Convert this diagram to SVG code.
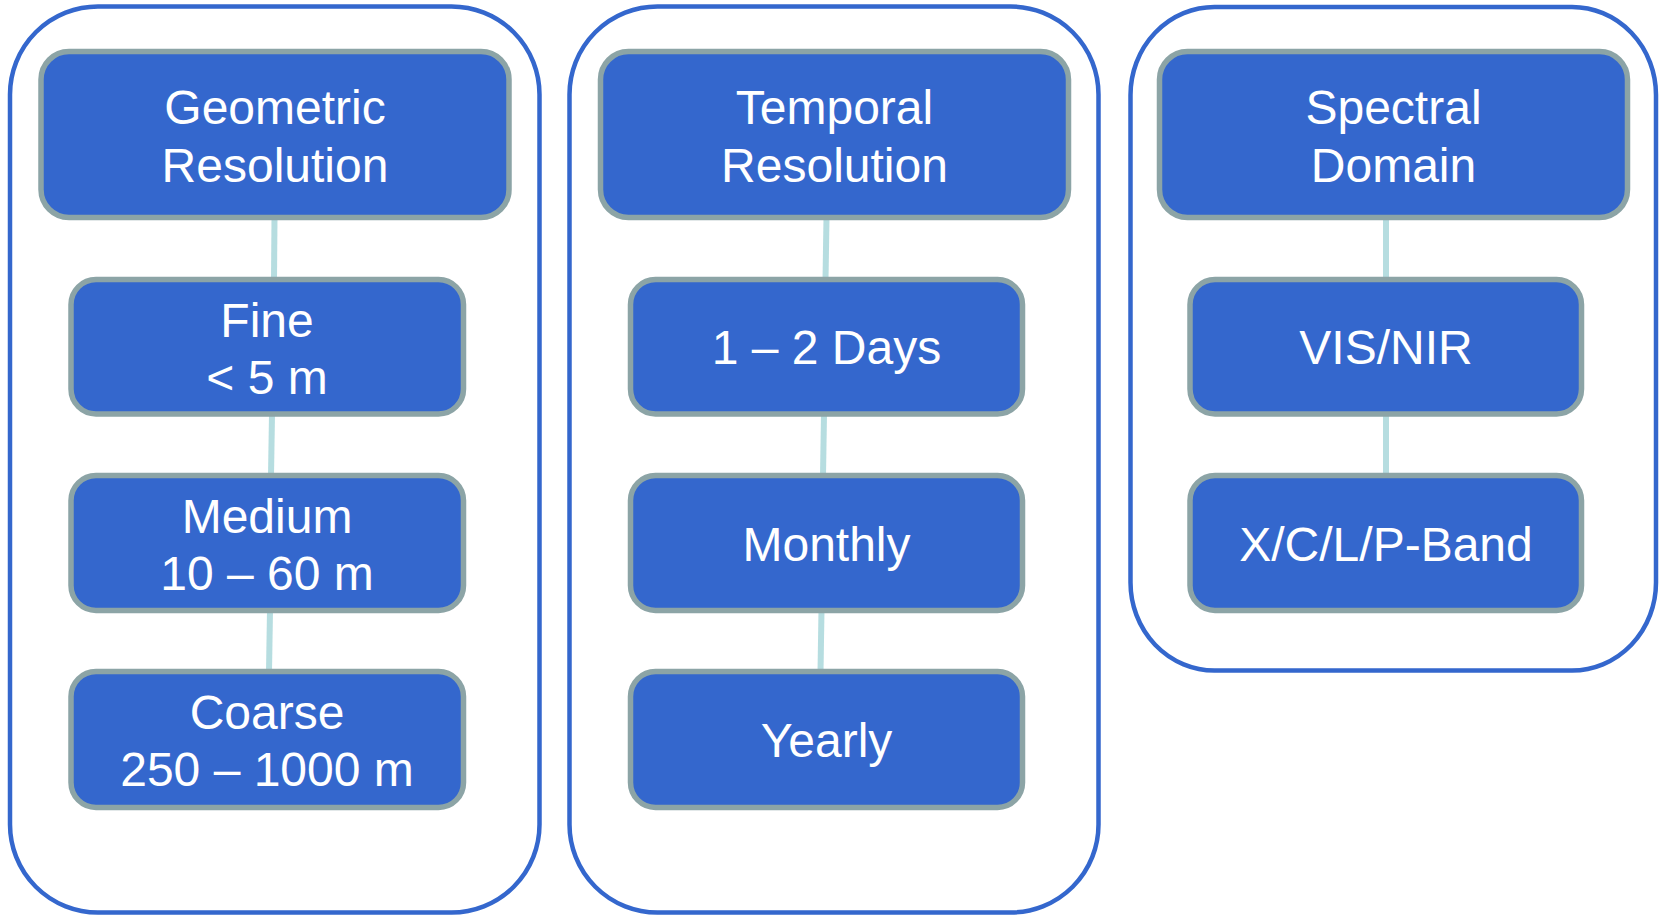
<svg xmlns="http://www.w3.org/2000/svg" width="1659" height="915" viewBox="0 0 1659 915">
<style>
.cont{fill:#ffffff;stroke:#3467CD;stroke-width:4.5}
.box{fill:#3467CD;stroke:#8CA4A6;stroke-width:5.5}
.conn line{stroke:#B6DDE0;stroke-width:6}
text{font-family:"Liberation Sans",Arial,sans-serif;font-size:48px;fill:#ffffff;text-anchor:middle}
</style>
<rect width="1659" height="915" fill="#ffffff"/>
<g id="container-geometric"><rect class="cont" x="10" y="6.5" width="529.5" height="906" rx="88" ry="88"/></g>
<g id="container-temporal"><rect class="cont" x="569.5" y="6.5" width="529" height="906" rx="88" ry="88"/></g>
<g id="container-spectral"><rect class="cont" x="1130.5" y="7" width="525.5" height="663.5" rx="84" ry="88"/></g>
<g id="connectors" class="conn">
<line x1="274.5" y1="218" x2="274" y2="280"/>
<line x1="272" y1="414" x2="271" y2="476"/>
<line x1="270" y1="610" x2="269" y2="672"/>
<line x1="826.5" y1="218" x2="825.5" y2="280"/>
<line x1="824" y1="414" x2="823" y2="476"/>
<line x1="821.5" y1="610" x2="820.5" y2="672"/>
<line x1="1386" y1="218" x2="1386" y2="280"/>
<line x1="1386" y1="414" x2="1386" y2="476"/>
</g>
<g id="geometric-resolution"><rect class="box" x="41" y="51.5" width="468" height="166" rx="28"/><text x="275" y="124">Geometric</text><text x="275" y="181.5">Resolution</text></g>
<g id="fine"><rect class="box" x="71" y="279.5" width="392.5" height="134.5" rx="25"/><text x="267" y="336.5">Fine</text><text x="267" y="394">&lt; 5 m</text></g>
<g id="medium"><rect class="box" x="71" y="475.5" width="392.5" height="135" rx="25"/><text x="267" y="532.5">Medium</text><text x="267" y="590">10 – 60 m</text></g>
<g id="coarse"><rect class="box" x="71" y="671.5" width="392.5" height="136" rx="25"/><text x="267" y="728.5">Coarse</text><text x="267" y="785.5">250 – 1000 m</text></g>
<g id="temporal-resolution"><rect class="box" x="600.5" y="51.5" width="468" height="166" rx="28"/><text x="834.5" y="124">Temporal</text><text x="834.5" y="181.5">Resolution</text></g>
<g id="days"><rect class="box" x="630.5" y="279.5" width="392" height="134.5" rx="25"/><text x="826.5" y="364">1 – 2 Days</text></g>
<g id="monthly"><rect class="box" x="630.5" y="475.5" width="392" height="135" rx="25"/><text x="826.5" y="561">Monthly</text></g>
<g id="yearly"><rect class="box" x="630.5" y="671.5" width="392" height="136" rx="25"/><text x="826.5" y="757">Yearly</text></g>
<g id="spectral-domain"><rect class="box" x="1159.5" y="51.5" width="468" height="166" rx="28"/><text x="1393.5" y="124">Spectral</text><text x="1393.5" y="181.5">Domain</text></g>
<g id="vis-nir"><rect class="box" x="1190" y="279.5" width="391.5" height="134.5" rx="25"/><text x="1386" y="364">VIS/NIR</text></g>
<g id="xclp-band"><rect class="box" x="1190" y="475.5" width="391.5" height="135" rx="25"/><text x="1386" y="561">X/C/L/P-Band</text></g>
</svg>
